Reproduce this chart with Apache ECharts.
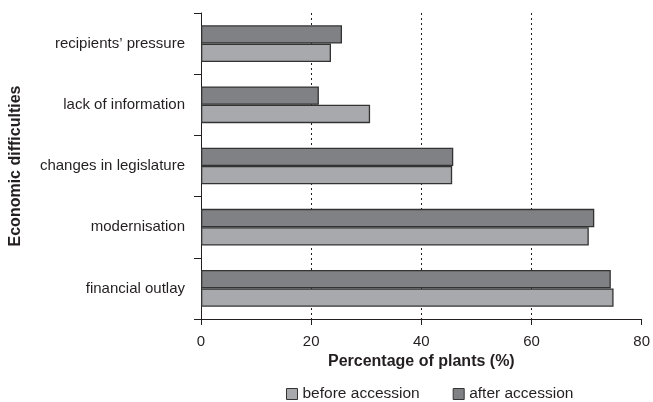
<!DOCTYPE html>
<html>
<head>
<meta charset="utf-8">
<script src="https://cdn.jsdelivr.net/npm/echarts@6/dist/echarts.min.js"></script>
<style>
  html, body { margin: 0; padding: 0; background: #fff; }
  #chart { width: 653px; height: 402px; }
</style>
</head>
<body>
<div id="chart"></div>
<script>
// Economic difficulties, bottom to top on the category axis
const categories = [
  'financial outlay',
  'modernisation',
  'changes in legislature',
  'lack of information',
  "recipients\u2019 pressure"
];
const beforeAccession = [74.9, 70.4, 45.6, 30.7, 23.6];
const afterAccession = [74.4, 71.4, 45.8, 21.4, 25.6];
const xTicks = [0, 20, 40, 60, 80];

const FONT = '"Liberation Sans", Arial, sans-serif';
const INK = '#231f20';
const LIGHT = '#a7a9ac';
const DARK = '#808184';
const EDGE = '#333333';

const chart = echarts.init(document.getElementById('chart'), null, { renderer: 'canvas' });

chart.setOption({
  animation: false,
  textStyle: { fontFamily: FONT },
  grid: { left: 200, right: 10, top: 13, bottom: 83, containLabel: false },
  legend: {
    bottom: -5,
    left: 281,
    icon: 'rect',
    itemWidth: 11,
    itemHeight: 11,
    itemGap: 33,
    textStyle: { fontFamily: FONT, fontSize: 15.5, color: INK },
    data: [
      { name: 'before accession', itemStyle: { color: LIGHT, borderColor: EDGE, borderWidth: 1 } },
      { name: 'after accession', itemStyle: { color: DARK, borderColor: EDGE, borderWidth: 1 } }
    ]
  },
  xAxis: {
    type: 'value',
    min: xTicks[0],
    max: xTicks[xTicks.length - 1],
    interval: 20,
    name: 'Percentage of plants (%)',
    nameLocation: 'middle',
    nameGap: 35,
    nameTextStyle: { fontFamily: FONT, fontSize: 16, fontWeight: 'bold', color: INK },
    axisLine: { show: true, lineStyle: { color: INK, width: 1 } },
    axisTick: { show: true, length: 6, lineStyle: { color: INK } },
    axisLabel: { fontFamily: FONT, fontSize: 15, color: INK, margin: 15 },
    splitLine: {
      show: true,
      showMinLine: false,
      showMaxLine: false,
      lineStyle: { color: INK, type: [2, 3], width: 1 }
    }
  },
  yAxis: {
    type: 'category',
    data: categories,
    name: 'Economic difficulties',
    nameLocation: 'middle',
    nameGap: 177,
    nameRotate: 90,
    nameTextStyle: { fontFamily: FONT, fontSize: 16, fontWeight: 'bold', color: INK },
    axisLine: { show: true, lineStyle: { color: INK, width: 1 } },
    axisTick: { show: true, length: 7, lineStyle: { color: INK } },
    axisLabel: { fontFamily: FONT, fontSize: 15, color: INK, margin: 16 },
    splitLine: { show: false }
  },
  series: [
    {
      name: 'after accession',
      type: 'bar',
      data: afterAccession,
      barGap: '0%',
      barCategoryGap: '40%',
      itemStyle: { color: DARK, borderColor: EDGE, borderWidth: 1.3 }
    },
    {
      name: 'before accession',
      type: 'bar',
      data: beforeAccession,
      barGap: '0%',
      barCategoryGap: '40%',
      itemStyle: { color: LIGHT, borderColor: EDGE, borderWidth: 1.3 }
    }
  ]
});
</script>
</body>
</html>
